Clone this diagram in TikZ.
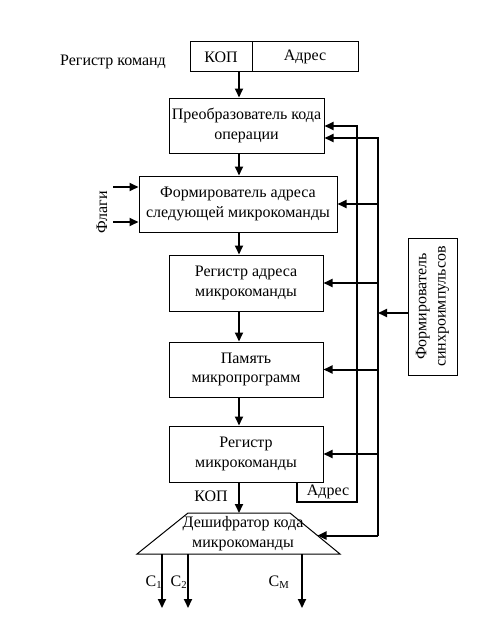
\documentclass[tikz,border=0pt]{standalone}
\usepackage{fontspec}
\setmainfont{Liberation Serif}
\usetikzlibrary{arrows.meta, positioning, calc}
\tikzset{
  every picture/.style={x=0.75pt, y=-0.75pt, font=\fontsize{12}{14.5}\selectfont},
  blok/.style={draw, line width=0.75pt, inner sep=0pt, align=center,
               minimum width=115.5pt, minimum height=42pt},
  pole/.style={draw, line width=0.75pt, inner sep=0pt, minimum width=46.5pt, minimum height=22.5pt},
  trap/.style={draw, line width=0.75pt},
  strelka/.style={-{Triangle[length=6.75pt, width=6pt]}, line width=1.5pt},
}

\begin{document}
\begin{tikzpicture}
  \useasboundingbox (0,0) rectangle (496,617);
  % регистр команд
  \node[pole] (kop) at (221,57) {КОП};
  \node[pole, minimum width=79.5pt] (adr) at (305,57) {Адрес};
  \node (rk) at (113,62) {Регистр команд};
  % блоки
  \node[blok, minimum width=116.25pt, minimum height=41.25pt] (b1) at (246.5,125.5) {Преобразователь кода\\операции};
  \node[blok, minimum width=148.5pt] (b2) at (238,204) {Формирователь адреса\\следующей микрокоманды};
  \node[blok] (b3) at (246,283) {Регистр адреса\\микрокоманды};
  \node[blok, minimum height=41.25pt] (b4) at (246,369.5) {Память\\микропрограмм};
  \node[blok] (b5) at (246,454) {Регистр\\микрокоманды};
  % дешифратор
  \coordinate (dtl) at (188,513);
  \coordinate (dtr) at (290,513);
  \coordinate (dbr) at (340,554);
  \coordinate (dbl) at (137,554);
  \draw[trap] (dtl) -- (dtr) -- (dbr) -- (dbl) -- cycle;
  \node[align=center] (dectxt) at (243,533.5) {Дешифратор кода\\микрокоманды};
  \node[draw, line width=0.75pt, minimum width=36.75pt, minimum height=102.75pt] (sync) at (432.5,306.5) {};
  \node[rotate=90, align=center] (synctxt) at (sync.center) {Формирователь\\синхроимпульсов};
  \node[rotate=90] (flagi) at (102,212) {Флаги};
  \node (kopl) at (211,496) {КОП};
  \node (adrl) at (328,492) {Адрес};
  % опорные точки
  \coordinate (os) at (239,0);
  \coordinate (vn) at (357,126);
  \coordinate (vs) at (378,138);
  \coordinate (ax) at (297,502);
  \coordinate (sy) at (400,313);
  \coordinate (f1) at (113,187);
  \coordinate (f2) at (113,222);
  \coordinate (decr) at ($(dtr)!0.55!(dbr)$);
  % основной поток
  \draw[strelka] (kop.south -| os) -- (b1.north -| os);
  \draw[strelka] (b1.south -| os) -- (b2.north -| os);
  \draw[strelka] (b2.south -| os) -- (b3.north -| os);
  \draw[strelka] (b3.south -| os) -- (b4.north -| os);
  \draw[strelka] (b4.south -| os) -- (b5.north -| os);
  \draw[strelka] (b5.south -| os) -- (dtl -| os);
  \draw[strelka] (f1) -- (f1 -| b2.west);
  \draw[strelka] (f2) -- (f2 -| b2.west);
  % адрес
  \draw[strelka] (b5.south -| ax) -- (ax) -| (vn) -- (vn -| b1.east);
  % синхроимпульсы
  \draw[strelka] (decr -| vs) -- (vs) -- (vs -| b1.east);
  \foreach \b in {b2,b3,b4,b5}
    \draw[strelka] (\b.east -| vs) -- (\b.east);
  \draw[strelka] (decr -| vs) -- (decr);
  \draw[strelka] (sync.west |- sy) -- (vs |- sy);
  % выходы
  \coordinate (c1) at (162,608);
  \coordinate (c2) at (188,608);
  \coordinate (cm) at (302,608);
  \draw[strelka] (c1 |- dbl) -- (c1);
  \draw[strelka] (c2 |- dbl) -- (c2);
  \draw[strelka] (cm |- dbl) -- (cm);
  \node (lc1) at (154,582) {C\textsubscript{1}};
  \node (lc2) at (179,582) {C\textsubscript{2}};
  \node (lcm) at (279,582) {C\textsubscript{M}};
\end{tikzpicture}
\end{document}
